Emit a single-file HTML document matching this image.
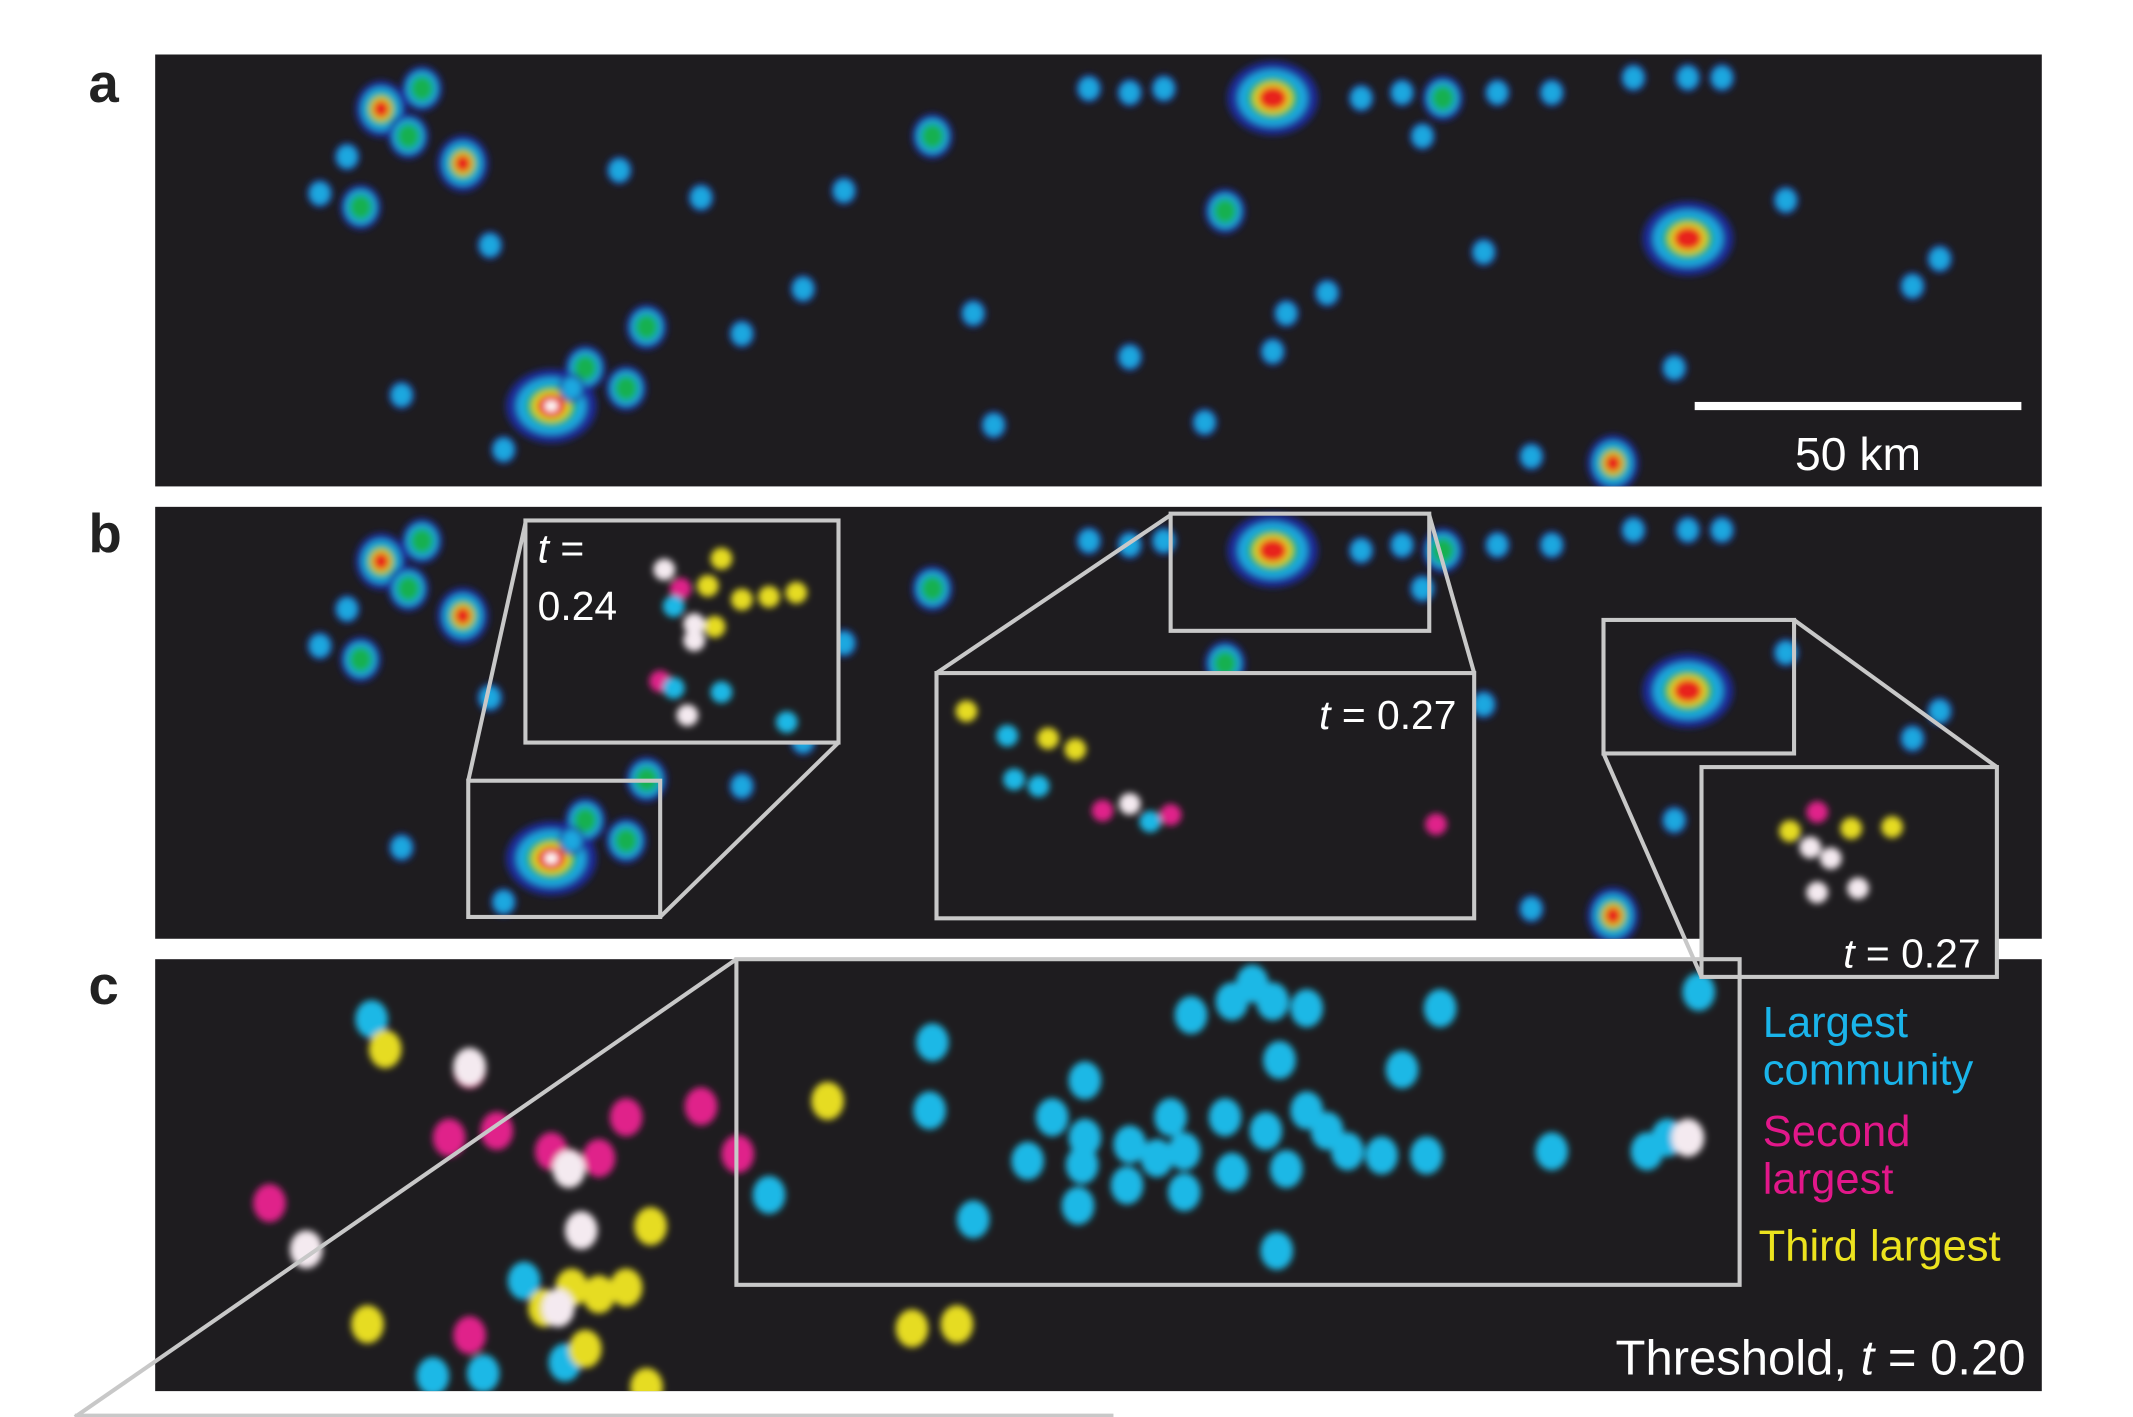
<!DOCTYPE html>
<html><head><meta charset="utf-8"><style>
html,body{margin:0;padding:0;background:#fff;}
svg{display:block}
text{font-family:"Liberation Sans",sans-serif}
</style></head><body>
<svg id="fig" width="2133" height="1417" viewBox="0 0 1567 1040" preserveAspectRatio="none" xmlns="http://www.w3.org/2000/svg">
<defs>
<filter id="blur" x="-20%" y="-20%" width="140%" height="140%"><feGaussianBlur stdDeviation="2.5"/></filter>
<filter id="blur2" x="-20%" y="-20%" width="140%" height="140%"><feGaussianBlur stdDeviation="2.5"/></filter>
<clipPath id="clipA"><rect x="114" y="40" width="1386" height="317"/></clipPath>
<clipPath id="clipB"><rect x="114" y="372" width="1386" height="317"/></clipPath>
<clipPath id="clipC"><rect x="114" y="704" width="1386" height="317"/></clipPath>
</defs>
<rect x="114" y="40" width="1386" height="317" fill="#1e1c1f"/>
<rect x="114" y="372" width="1386" height="317" fill="#1e1c1f"/>
<rect x="114" y="704" width="1386" height="317" fill="#1e1c1f"/>
<g id="heatA" clip-path="url(#clipA)"><g id="heat" filter="url(#blur)"></g></g>
<g clip-path="url(#clipB)"><use href="#heat" transform="translate(0,332)"/></g>
<g id="dotsC" clip-path="url(#clipC)" filter="url(#blur2)"></g>

<text x="65" y="75" font-size="40" font-weight="bold" fill="#222">a</text>
<text x="65" y="405" font-size="40" font-weight="bold" fill="#222">b</text>
<text x="65" y="737" font-size="40" font-weight="bold" fill="#222">c</text>

<rect x="1245" y="295" width="240" height="6" fill="#fff"/>
<text x="1365" y="345" font-size="34" fill="#fff" text-anchor="middle">50 km</text>

<g id="insets" stroke="#c8c8c8" stroke-width="3" fill="none">
<line x1="344" y1="573" x2="386" y2="384"/><line x1="485" y1="673" x2="616" y2="545"/>
<rect x="344" y="573" width="141" height="100"/>
<line x1="688" y1="494" x2="860" y2="378"/><line x1="1083" y1="494" x2="1050" y2="378"/>
<rect x="860" y="377" width="190" height="86"/>
<line x1="1178" y1="553" x2="1250" y2="717"/><line x1="1318" y1="455" x2="1467" y2="563"/>
<rect x="1178" y="455" width="140" height="98"/>
<line x1="541" y1="704" x2="55" y2="1040"/><line x1="55" y1="1039" x2="818" y2="1039"/>
</g>
<rect x="386" y="382" width="230" height="163" fill="#1e1c1f" stroke="#c8c8c8" stroke-width="3"/>
<rect x="688" y="494" width="395" height="180" fill="#1e1c1f" stroke="#c8c8c8" stroke-width="3"/>
<rect x="1250" y="563" width="217" height="154" fill="#1e1c1f" stroke="#c8c8c8" stroke-width="3"/>
<g id="insetDots" filter="url(#blur2)"></g>
<rect x="541" y="704" width="737" height="239" fill="none" stroke="#c8c8c8" stroke-width="3"/>

<text font-size="30" fill="#fff"><tspan x="395" y="413" font-style="italic">t</tspan><tspan> =</tspan><tspan x="395" y="455">0.24</tspan></text>
<text x="1070" y="535" font-size="30" fill="#fff" text-anchor="end"><tspan font-style="italic">t</tspan> = 0.27</text>
<text x="1455" y="710" font-size="30" fill="#fff" text-anchor="end"><tspan font-style="italic">t</tspan> = 0.27</text>

<text font-size="32" fill="#1ab4ea"><tspan x="1295" y="761">Largest</tspan><tspan x="1295" y="796">community</tspan></text>
<text font-size="32" fill="#e2178a"><tspan x="1295" y="841">Second</tspan><tspan x="1295" y="876">largest</tspan></text>
<text x="1292" y="925" font-size="32" fill="#ece31e">Third largest</text>
<text x="1488" y="1009" font-size="36" fill="#fff" text-anchor="end">Threshold, <tspan font-style="italic">t</tspan> = 0.20</text>
</svg>
<script>
// hotspot data: x, y, level
const hotX = [405,935,1240,280,340,1185,300,310,265,235,255,430,460,475,900,1060,1000,1240,1265,1200,1140,1100,1030,830,855,800,685,590,830,935,885,1125,1312,715,730,455,515,1425,1405,370,295,1045,1090,945,975,620,545,420,360,1230];
const hotY = [298,72,175,80,120,340,100,65,152,142,115,270,285,240,155,72,72,57,57,57,68,68,68,68,65,65,100,212,262,258,310,335,147,230,312,125,145,190,210,330,290,100,185,230,215,140,245,285,180,270];
const hotL = [5,4,4,3,3,3,2,2,2,1,1,2,2,2,2,2,1,1,1,1,1,1,1,1,1,1,2,1,1,1,1,1,1,1,1,1,1,1,1,1,1,1,1,1,1,1,1,1,1,1];
const layers = [["#1a2a9a",1.9,1],["#1aa8e0",1.45,1],["#19b050",1.05,2],["#e8e020",0.8,3],["#e8201c",0.6,3],["#ffffff",0.28,5]];
const NS="http://www.w3.org/2000/svg";
const heat=document.getElementById('heat');
for(let i=0;i<hotX.length;i++){
  const r = hotL[i]>=4?13:(hotL[i]===3?10:(hotL[i]===2?8:5));
  const g=document.createElementNS(NS,'g');
  
  
  for(const [c,k,min] of layers){
    if(hotL[i]<min) continue;
    const e=document.createElementNS(NS,'ellipse');
    e.setAttribute('cx',hotX[i]);e.setAttribute('cy',hotY[i]);
    const wide = hotL[i]>=4?1.35:1.0;
    e.setAttribute('rx',r*k*wide);e.setAttribute('ry',r*k*1.1);e.setAttribute('fill',c);
    g.appendChild(e);
  }
  heat.appendChild(g);
}
// community dots panel c: x, y, community (0 cyan,1 magenta,2 yellow,3 white)
const dotX=[273,935,905,920,960,875,1058,1248,685,797,940,1030,683,773,797,860,900,930,960,975,990,1015,1048,1140,755,795,830,850,870,905,945,828,870,792,715,565,938,1225,1210,385,318,355,415,345,330,365,405,440,460,515,542,198,345,418,283,608,478,270,670,703,430,460,475,420,400,440,345,418,427,410,1240,225];
const dotY=[748,735,735,722,740,745,740,728,765,793,778,785,815,820,835,820,820,830,815,830,845,848,848,845,852,855,840,850,845,860,858,870,875,885,895,877,918,835,845,940,1010,1008,1000,785,835,830,845,850,820,812,847,883,980,857,770,808,900,972,975,972,990,945,1018,945,960,950,783,858,903,960,835,917];
const dotC=[0,0,0,0,0,0,0,0,0,0,0,0,0,0,0,0,0,0,0,0,0,0,0,0,0,0,0,0,0,0,0,0,0,0,0,0,0,0,0,0,0,0,0,1,1,1,1,1,1,1,1,1,1,1,2,2,2,2,2,2,2,2,2,2,2,2,3,3,3,3,3,3];
const cols=["#1ab8e6","#e0208a","#e6dc22","#f4eaf0"];
const dc=document.getElementById('dotsC');
for(let i=0;i<dotX.length;i++){
  const e=document.createElementNS(NS,'ellipse');
  
  
  e.setAttribute('cx',dotX[i]);e.setAttribute('cy',dotY[i]);
  e.setAttribute('rx',12);e.setAttribute('ry',14);e.setAttribute('fill',cols[dotC[i]]);
  dc.appendChild(e);
}
// inset dots
const inX=[488,500,530,545,525,565,585,510,495,510,520,485,495,530,505,578,710,740,770,790,745,763,810,830,845,860,1055,1335,1315,1360,1390,1345,1335,1365,1330];
const inY=[418,432,410,440,460,438,435,470,445,458,430,500,505,508,525,530,522,540,542,550,572,577,595,590,603,598,605,596,610,608,607,630,655,652,622];
const inC=[3,1,2,2,2,2,2,3,0,3,2,1,0,0,3,0,2,0,2,2,0,0,1,3,0,1,1,1,2,2,2,3,3,3,3];
const idg=document.getElementById('insetDots');
for(let i=0;i<inX.length;i++){
  const e=document.createElementNS(NS,'circle');
  
  
  e.setAttribute('cx',inX[i]);e.setAttribute('cy',inY[i]);e.setAttribute('r',8);
  e.setAttribute('fill',cols[inC[i]]);
  idg.appendChild(e);
}
</script>
</body></html>
